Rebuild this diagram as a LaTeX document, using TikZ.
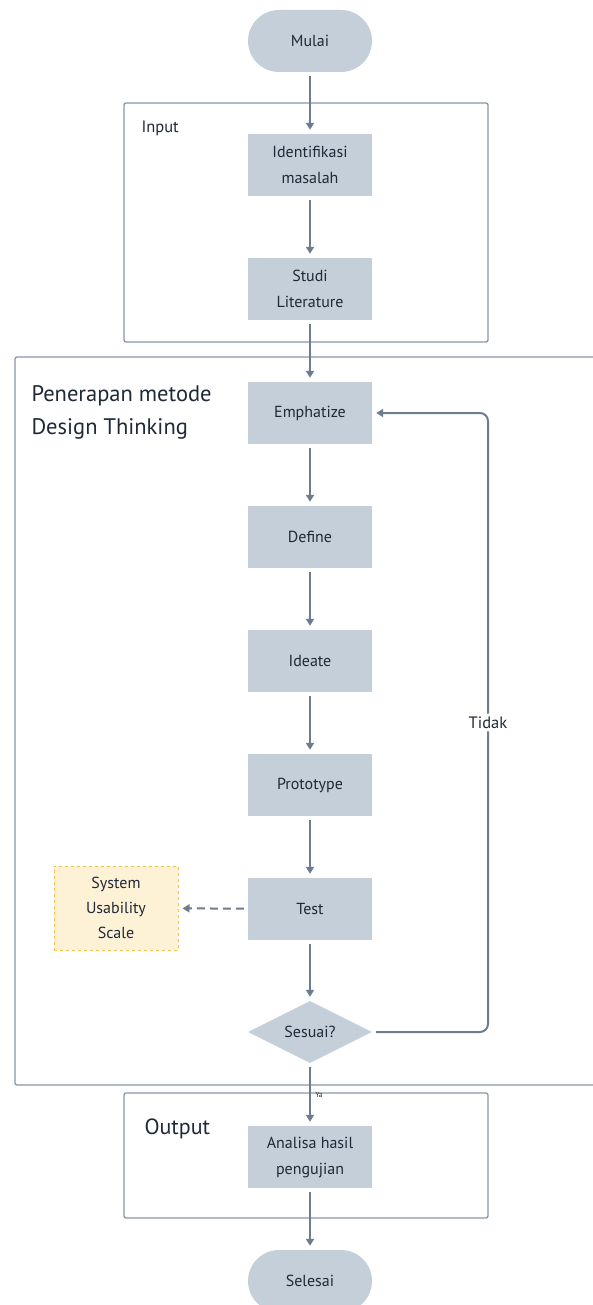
\documentclass[tikz,border=0pt]{standalone}
\usepackage{fontspec}
\setmainfont{PT Sans}
\usetikzlibrary{shapes.geometric,arrows.meta}
\definecolor{boxfill}{HTML}{C4CFDA}
\definecolor{txt}{HTML}{1F2937}
\definecolor{arr}{HTML}{6E7C8F}
\definecolor{frame}{HTML}{8896A6}
\definecolor{susfill}{HTML}{FDF1D6}
\definecolor{susdraw}{HTML}{F2C14E}
\tikzset{
  procbox/.style={rectangle, fill=boxfill, minimum width=124pt, minimum height=62pt, align=center, text=txt, font=\fontsize{16}{26}\selectfont, inner sep=0pt},
  termbox/.style={procbox, rounded corners=31pt},
  decbox/.style={diamond, aspect=2, fill=boxfill, minimum width=124pt, minimum height=62pt, text=txt, font=\fontsize{16}{26}\selectfont, inner sep=0pt},
  susbox/.style={rectangle, fill=susfill, draw=susdraw, dashed, line width=1pt, minimum width=124pt, minimum height=84pt, align=center, text=txt, font=\fontsize{16}{25}\selectfont, inner sep=0pt},
  flow/.style={draw=arr, line width=2pt, -{Triangle[length=7pt,width=8pt]}, shorten <=4pt, shorten >=4pt},
  groupframe/.style={draw=frame, line width=1.3pt, rounded corners=2pt},
  grouptitle/.style={anchor=base west, text=txt, align=left},
}
\begin{document}
\begin{tikzpicture}[x=1pt,y=-1pt]
\useasboundingbox (0,0) rectangle (593,1305);
\fill[white] (0,0) rectangle (593,1305);
% group frames
\draw[groupframe] (124,103) rectangle (488,342);
\draw[groupframe] (593,357) -- (15,357) -- (15,1085) -- (593,1085);
\draw[groupframe] (124,1093) rectangle (488,1218);
\node[grouptitle, font=\fontsize{16.5}{18}\selectfont] (tin) at (138,133) {Input};
\node[grouptitle, font=\fontsize{22.5}{33}\selectfont, anchor=north west] (tdt) at (28,382) {Penerapan metode\\Design Thinking};
\node[grouptitle, font=\fontsize{22}{24}\selectfont] (tout) at (141,1134) {Output};
% nodes
\node[termbox] (start) at (310,41) {Mulai};
\node[procbox] (iden) at (310,165) {Identifikasi\\masalah};
\node[procbox] (studi) at (310,289) {Studi\\Literature};
\node[procbox] (emp) at (310,413) {Emphatize};
\node[procbox] (def) at (310,537) {Define};
\node[procbox] (ide) at (310,661) {Ideate};
\node[procbox] (pro) at (310,785) {Prototype};
\node[procbox] (test) at (310,909) {Test};
\node[susbox] (sus) at (116,908) {System\\Usability\\Scale};
\node[decbox] (dec) at (310,1032) {Sesuai?};
\node[procbox] (ana) at (310,1157) {Analisa hasil\\pengujian};
\node[termbox] (end) at (310,1281) {Selesai};
\coordinate (loopx) at (488,0);
% connectors
\draw[flow] (start) -- (iden);
\draw[flow] (iden) -- (studi);
\draw[flow] (studi) -- (emp);
\draw[flow] (emp) -- (def);
\draw[flow] (def) -- (ide);
\draw[flow] (ide) -- (pro);
\draw[flow] (pro) -- (test);
\draw[flow] (test) -- (dec);
\draw[flow, dashed, dash pattern=on 8pt off 5pt] (test) -- (sus);
\draw[flow] (dec) -- node[pos=0.5, right=1pt, font=\fontsize{7.5}{8}\selectfont, text=txt] {Ya} (ana);
\draw[flow] (ana) -- (end);
\draw[flow, rounded corners=8pt] (dec.east) -- (dec.east -| loopx) -- node[midway, fill=white, text=txt, font=\fontsize{16.5}{18}\selectfont, inner sep=3pt] {Tidak} (emp.east -| loopx) -- (emp.east);
\end{tikzpicture}
\end{document}
